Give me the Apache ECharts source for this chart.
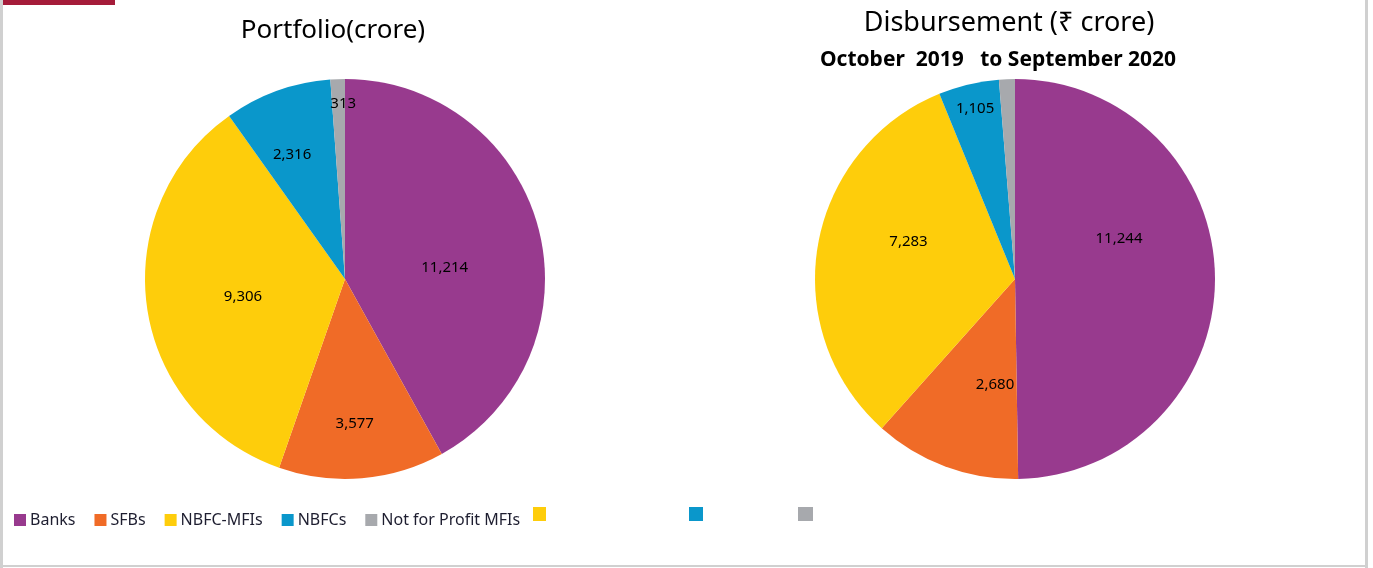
<!DOCTYPE html>
<html>
<head>
<meta charset="utf-8">
<script src="https://cdn.jsdelivr.net/npm/echarts@6/dist/echarts.min.js"></script>
<style>
	html, body { margin: 0; padding: 0; background: #fff; }
	#main { width: 1373px; height: 568px; }
</style>
</head>
<body>
<div id="main"></div>
<script>
	// categories and values (crore)
	const categories = ['Banks', 'SFBs', 'NBFC-MFIs', 'NBFCs', 'Not for Profit MFIs'];
	const portfolio = [11214, 3577, 9306, 2316, 313];
	// grey slice of disbursement has no printed label, estimated from its size
	const disbursement = [11244, 2680, 7283, 1105, 290];
	const showDisbLabel = [true, true, true, true, false];

	const colors = ['#983a8e', '#f06b27', '#fecd0b', '#0a97cb', '#a7a9ad'];

	// label nudges, to sit where the original labels sit
	const portfolioOffsets = [[0, 14], [1, 42], [0, 3], [-18, -27], [2, -72]];
	const disbOffsets = [[1, -39], [16, 9], [-5, -20], [-16, -70], [0, 0]];

	const labelFont = { fontFamily: 'Noto Sans', fontSize: 15, color: '#000' };

	function buildData(values, offsets, shown) {
		return values.map((v, i) => ({
			name: categories[i],
			value: v,
			label: { show: shown ? shown[i] : true, offset: offsets[i] }
		}));
	}

	function pieSeries(name, center, values, offsets, shown) {
		return {
			name: name,
			type: 'pie',
			center: center,
			radius: [0, 200],
			startAngle: 90,
			clockwise: true,
			avoidLabelOverlap: false,
			silent: true,
			label: Object.assign({
				position: 'inside',
				formatter: p => p.value.toLocaleString('en-US')
			}, labelFont),
			labelLine: { show: false },
			itemStyle: { borderWidth: 0 },
			data: buildData(values, offsets, shown)
		};
	}

	const chart = echarts.init(document.getElementById('main'), null, { renderer: 'canvas' });

	const option = {
		animation: false,
		color: colors,
		legend: {
			data: categories,
			left: 9,
			top: 507,
			itemWidth: 12,
			itemHeight: 12,
			itemGap: 19,
			icon: 'rect',
			selectedMode: false,
			textStyle: { fontFamily: 'Noto Sans', fontSize: 16, color: '#1e1e30', padding: [0, 0, 0, -1] }
		},
		graphic: [
			// frame
			{ type: 'rect', shape: { x: 0, y: 0, width: 3, height: 568 }, style: { fill: '#d0d0d0' } },
			{ type: 'rect', shape: { x: 1365, y: 0, width: 3, height: 568 }, style: { fill: '#d0d0d0' } },
			{ type: 'rect', shape: { x: 0, y: 565, width: 1368, height: 2 }, style: { fill: '#d0d0d0' } },
			{ type: 'rect', shape: { x: 3, y: 0, width: 112, height: 5 }, style: { fill: '#a51c3a' } },
			// titles
			{
				type: 'text', x: 333, y: 31,
				style: { text: 'Portfolio(crore)', fill: '#000', font: '26px "Noto Sans"', textAlign: 'center', textVerticalAlign: 'middle' }
			},
			{
				type: 'text', x: 1009, y: 23,
				style: { text: 'Disbursement (₹ crore)', fill: '#000', font: '27px "Noto Sans"', textAlign: 'center', textVerticalAlign: 'middle' }
			},
			{
				type: 'text', x: 998, y: 60,
				style: { text: 'October  2019   to September 2020', fill: '#000', font: 'bold 21px "Noto Sans"', textAlign: 'center', textVerticalAlign: 'middle' }
			},
			// leftover legend keys of the second chart (no text)
			{ type: 'rect', shape: { x: 533, y: 507, width: 13, height: 14 }, style: { fill: colors[2] } },
			{ type: 'rect', shape: { x: 689, y: 507, width: 14, height: 14 }, style: { fill: colors[3] } },
			{ type: 'rect', shape: { x: 798, y: 507, width: 15, height: 14 }, style: { fill: colors[4] } }
		],
		series: [
			pieSeries('Portfolio', [345, 279], portfolio, portfolioOffsets),
			pieSeries('Disbursement', [1015, 279], disbursement, disbOffsets, showDisbLabel)
		]
	};

	chart.setOption(option);
</script>
</body>
</html>
